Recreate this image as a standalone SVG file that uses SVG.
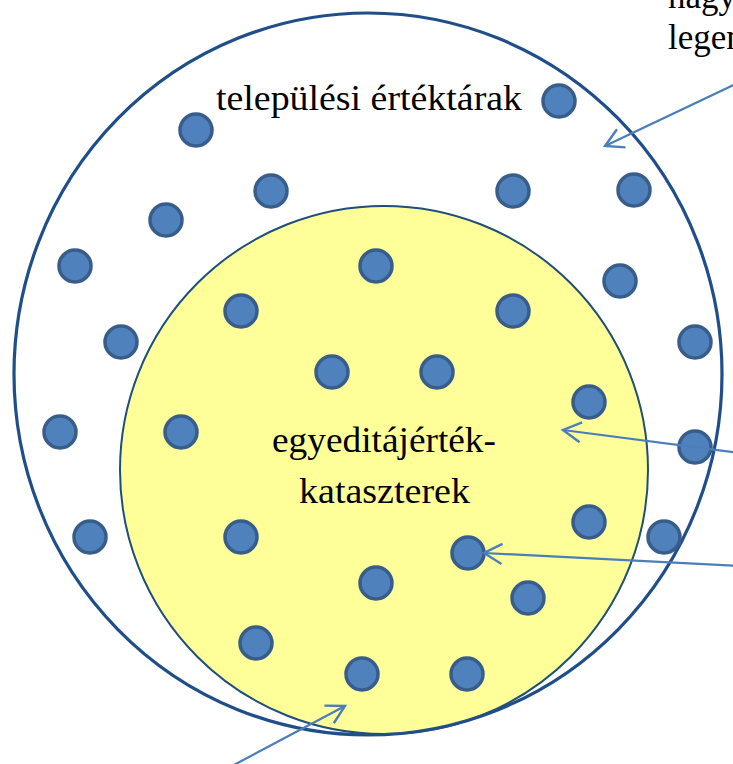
<svg xmlns="http://www.w3.org/2000/svg" width="733" height="764" viewBox="0 0 733 764">
<style>
.dot{fill:#4f81bd;stroke:#385d8a;stroke-width:3.5}
.lbl{font-family:"Liberation Serif","Times New Roman",serif;font-size:35px;fill:#000}
.arr{fill:none;stroke:#4a7ebb;stroke-width:2.2}
</style>
<defs>
<marker id="ah" markerUnits="userSpaceOnUse" markerWidth="24" markerHeight="24" refX="21" refY="12" orient="auto" viewBox="0 0 24 24">
<path d="M3,2 L21,12 L3,22" fill="none" stroke="#4a7ebb" stroke-width="2.4"/>
</marker>
</defs>
<rect width="733" height="764" fill="#fff"/>
<g id="outer-region">
<ellipse cx="368" cy="374" rx="354" ry="361" fill="#fff" stroke="none"/>
</g>
<g id="inner-region">
<ellipse cx="384" cy="470" rx="264" ry="264" fill="#ffff99" stroke="#1f4e79" stroke-width="2"/>
</g>
<g id="outer-border">
<ellipse cx="368" cy="374" rx="354" ry="361" fill="none" stroke="#1f4e89" stroke-width="3.2"/>
</g>
<g id="dots">
<circle class="dot" cx="559" cy="101" r="16"/>
<circle class="dot" cx="196" cy="130" r="16"/>
<circle class="dot" cx="271" cy="191" r="16"/>
<circle class="dot" cx="513" cy="191" r="16"/>
<circle class="dot" cx="634" cy="190" r="16"/>
<circle class="dot" cx="166" cy="220" r="16"/>
<circle class="dot" cx="75" cy="266" r="16"/>
<circle class="dot" cx="376" cy="266" r="16"/>
<circle class="dot" cx="620" cy="281" r="16"/>
<circle class="dot" cx="241" cy="311" r="16"/>
<circle class="dot" cx="513" cy="311" r="16"/>
<circle class="dot" cx="121" cy="342" r="16"/>
<circle class="dot" cx="695" cy="342" r="16"/>
<circle class="dot" cx="332" cy="372" r="16"/>
<circle class="dot" cx="437" cy="372" r="16"/>
<circle class="dot" cx="589" cy="402" r="16"/>
<circle class="dot" cx="60" cy="432" r="16"/>
<circle class="dot" cx="181" cy="432" r="16"/>
<circle class="dot" cx="695" cy="447" r="16"/>
<circle class="dot" cx="90" cy="537" r="16"/>
<circle class="dot" cx="241" cy="537" r="16"/>
<circle class="dot" cx="589" cy="522" r="16"/>
<circle class="dot" cx="664" cy="537" r="16"/>
<circle class="dot" cx="468" cy="553" r="16"/>
<circle class="dot" cx="376" cy="583" r="16"/>
<circle class="dot" cx="528" cy="598" r="16"/>
<circle class="dot" cx="256" cy="643" r="16"/>
<circle class="dot" cx="362" cy="674" r="16"/>
<circle class="dot" cx="467" cy="674" r="16"/>
</g>
<g id="labels">
<text class="lbl" x="216" y="110" textLength="306" lengthAdjust="spacingAndGlyphs">települési értéktárak</text>
<text class="lbl" x="272" y="452" textLength="224" lengthAdjust="spacingAndGlyphs">egyeditájérték-</text>
<text class="lbl" x="299" y="503" textLength="171" lengthAdjust="spacingAndGlyphs">kataszterek</text>
<text class="lbl" x="668" y="8">nagy</text>
<text class="lbl" x="668" y="49">legen</text>
</g>
<g id="connectors">
<line class="arr" x1="740" y1="82" x2="605" y2="146" marker-end="url(#ah)"/>
<line class="arr" x1="740" y1="453" x2="563" y2="430" marker-end="url(#ah)"/>
<line class="arr" x1="740" y1="566" x2="484" y2="553" marker-end="url(#ah)"/>
<line class="arr" x1="232" y1="766" x2="345" y2="706" marker-end="url(#ah)"/>
</g>
</svg>
